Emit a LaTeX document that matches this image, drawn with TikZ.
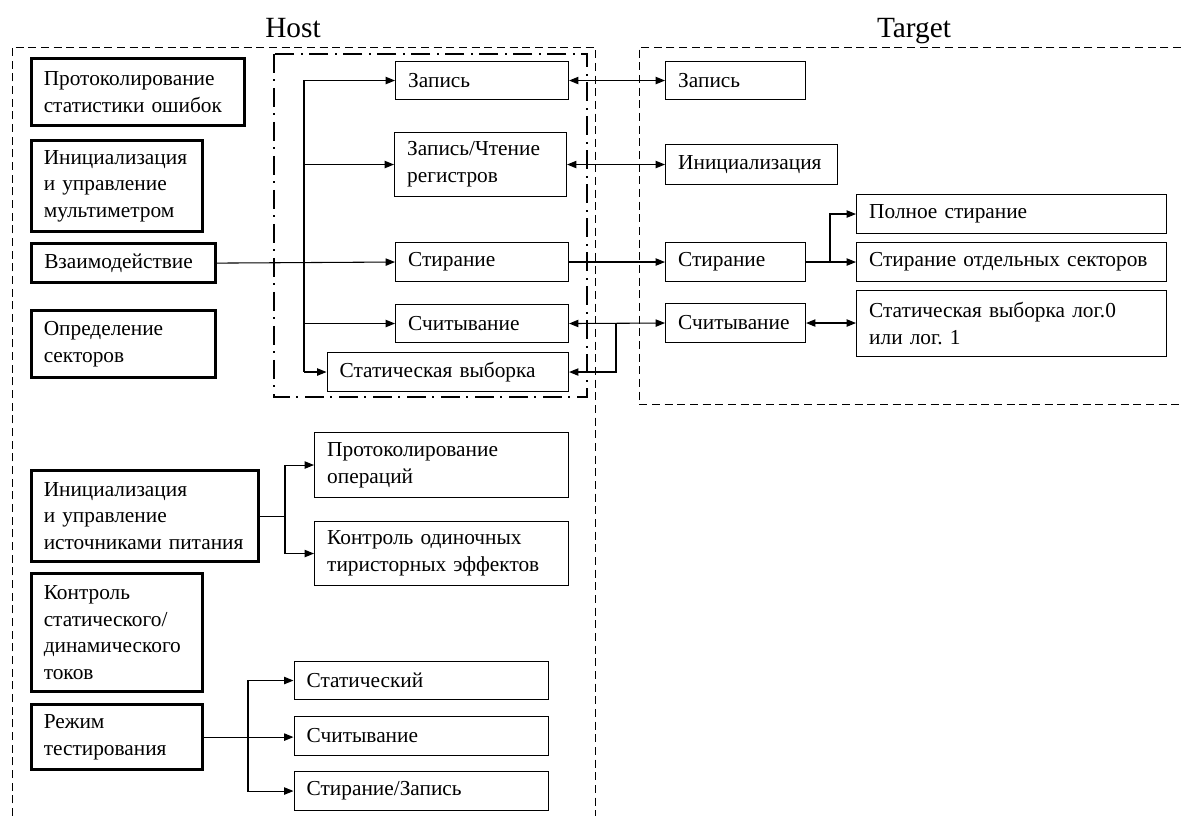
\documentclass[tikz,border=0pt]{standalone}
\usepackage{fontspec}
\setmainfont{Liberation Serif}
\usetikzlibrary{arrows.meta}
\frenchspacing
\newcommand{\mkbox}[7]{%
  \node[#1, anchor=north west, minimum width={(#4-#2)*0.75pt}, minimum height={(#5-#3)*0.75pt}, text width={(#4-#2)*0.75pt-19pt}] (#7) at (#2,#3) {#6};}
\tikzset{
  base/.style={draw, align=left, inner xsep=9.5pt, inner ysep=2pt, font=\fontsize{16}{20}\selectfont\frenchspacing},
  thinbox/.style={base, line width=0.8pt},
  thickbox/.style={base, line width=2.4pt},
  conn/.style={line width=0.8pt},
  arr/.style={conn, -{Triangle[length=7pt,width=5.5pt]}},
  darr/.style={conn, {Triangle[length=7pt,width=5.5pt]}-{Triangle[length=7pt,width=5.5pt]}},
  frame/.style={line width=0.7pt, dash pattern=on 6pt off 3.5pt},
  group/.style={line width=1.6pt, dash pattern=on 14pt off 5pt on 1.5pt off 5pt},
  title/.style={font=\fontsize{22}{26}\selectfont, anchor=base}
}
\begin{document}
\begin{tikzpicture}[x=0.75pt, y=-0.75pt]
\useasboundingbox (0,0) rectangle (1181,816);
% titles
\node[title] (host) at (293,38) {Host};
\node[title] (target) at (914,38) {Target};
% frames
\draw[frame] (12,816) -- (12,47) -- (595,47) -- (595,816);
\draw[frame] (1181,47) -- (639,47) -- (639,404) -- (1181,404);
\draw[group] (274,54) rectangle (587,397);
% host left thick boxes
\mkbox{thickbox}{29.5}{57}{243}{124}{Протоколирование\\статистики ошибок}{pso}
\mkbox{thickbox}{29.5}{139}{201}{230}{Инициализация\\и управление\\мультиметром}{im}
\mkbox{thickbox}{30}{242}{213.5}{281}{Взаимодействие}{vz}
\mkbox{thickbox}{29.5}{309}{213.5}{376}{Определение\\секторов}{os}
\mkbox{thickbox}{29.5}{469}{257}{560}{Инициализация\\и управление\\источниками питания}{ip}
\mkbox{thickbox}{29.5}{572}{201}{690}{Контроль\\статического/\\динамического\\токов}{ks}
\mkbox{thickbox}{29.5}{703}{201}{768}{Режим\\тестирования}{rt}
% host inner boxes
\mkbox{thinbox}{395}{61}{568}{99}{Запись}{hz}
\mkbox{thinbox}{394}{132}{566}{196}{Запись/Чтение\\регистров}{hzc}
\mkbox{thinbox}{395}{242}{568}{281}{Стирание}{hst}
\mkbox{thinbox}{395}{304}{568}{342}{Считывание}{hsc}
\mkbox{thinbox}{326.5}{352}{568}{391}{Статическая выборка}{hsv}
% host lower boxes
\mkbox{thinbox}{314}{432}{568}{497}{Протоколирование\\операций}{po}
\mkbox{thinbox}{314}{521}{568}{585}{Контроль одиночных\\тиристорных эффектов}{pk}
\mkbox{thinbox}{293.5}{661}{548}{699}{Статический}{ss}
\mkbox{thinbox}{293.5}{716}{548}{755}{Считывание}{sr}
\mkbox{thinbox}{293.5}{771}{548}{810}{Стирание/Запись}{sz}
% target boxes
\mkbox{thinbox}{665}{61}{805}{99}{Запись}{tz}
\mkbox{thinbox}{665}{144}{837}{184}{Инициализация}{ti}
\mkbox{thinbox}{665}{242}{805}{281}{Стирание}{tst}
\mkbox{thinbox}{665}{303}{805}{342}{Считывание}{tsc}
\mkbox{thinbox}{856}{194}{1166}{233}{Полное стирание}{tps}
\mkbox{thinbox}{856}{242}{1166}{281}{Стирание отдельных секторов}{tso}
\mkbox{thinbox}{856}{290}{1166}{356}{Статическая выборка лог.0\\или лог. 1}{tsl}
% branch coordinates
\coordinate (busx) at (304,0);
\coordinate (sbr) at (616,0);
\coordinate (tbr) at (830,0);
\coordinate (pbr) at (285,0);
\coordinate (rbr) at (248,0);
% host bus
\draw[arr] (vz.east) -- (hst.west);
\draw[arr] (busx |- hsv.west) |- (hz.west);
\draw[arr] (busx |- hzc.west) -- (hzc.west);
\draw[arr] (busx |- hsc.west) -- (hsc.west);
\draw[arr] (busx |- hsv.west) -- (hsv.west);
% host <-> target
\draw[darr] (hz.east) -- (tz.west);
\draw[darr] (hzc.east) -- (hzc.east -| ti.west);
\draw[arr] (hst.east) -- (tst.west);
\draw[darr] (hsc.east) -- (tsc.west);
\draw[arr] (sbr |- hsc.east) |- (hsv.east);
% target branches
\draw[arr] (tst.east) -- (tso.west);
\draw[arr] (tbr |- tst.east) |- (tps.west);
\draw[darr] (tsc.east) -- (tsc.east -| tsl.west);
% power supply
\draw[conn] (ip.east) -- (pbr |- ip.east);
\draw[arr] (pbr |- ip.east) |- (po.west);
\draw[arr] (pbr |- ip.east) |- (pk.west);
% test mode
\draw[arr] (rt.east) -- (rt.east -| sr.west);
\draw[arr] (rbr |- rt.east) |- (ss.west);
\draw[arr] (rbr |- rt.east) |- (sz.west);
\end{tikzpicture}
\end{document}
